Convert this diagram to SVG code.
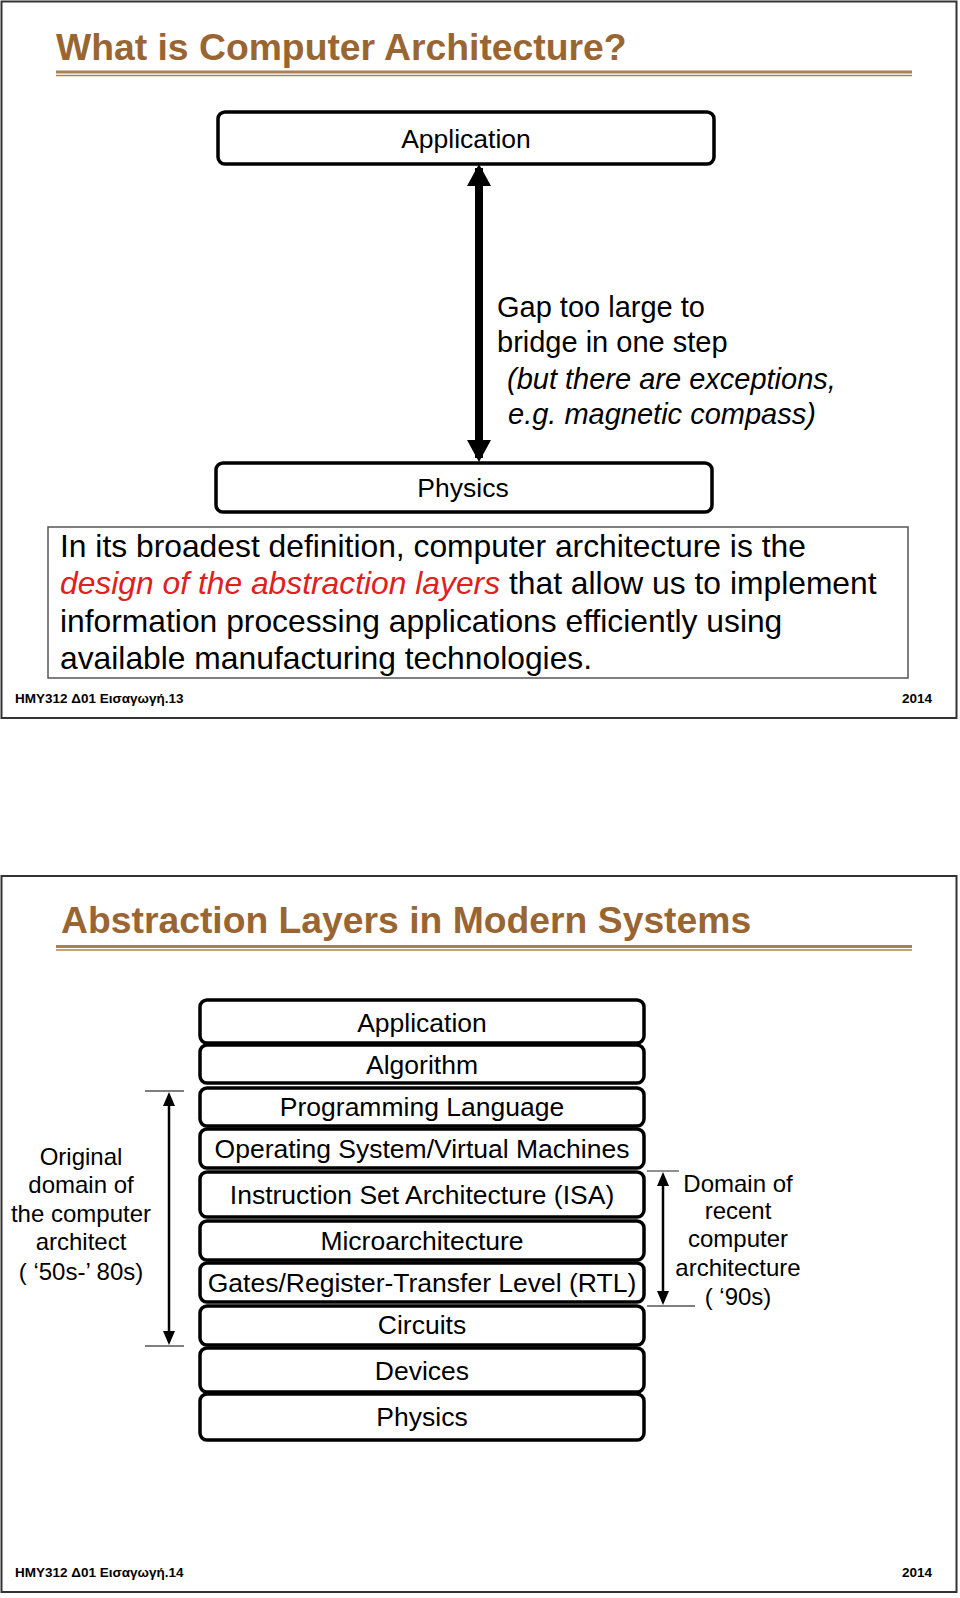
<svg xmlns="http://www.w3.org/2000/svg" width="960" height="1598" viewBox="0 0 960 1598">
<defs>
<style>
text{font-family:"Liberation Sans",Arial,sans-serif;fill:#000}
.slide{fill:#fff;stroke:#333;stroke-width:2}
.title{font-size:37.3px;font-weight:bold;fill:#996633}
.rule1{stroke:#a9834f;stroke-width:3}
.rule2{stroke:#a9834f;stroke-width:1.5}
.box{fill:#fff;stroke:#000;stroke-width:3.5}
.lbl{font-size:26.5px;text-anchor:middle}
.gap{font-size:29px}
.it{font-style:italic}
.def{font-size:31.8px}
.red{fill:#e02020;font-style:italic}
.defbox{fill:#fff;stroke:#555;stroke-width:1.5}
.foot{font-size:13.5px;font-weight:bold}
.side{font-size:24px;text-anchor:middle}
.tick{stroke:#555;stroke-width:1.3}
.thin{stroke:#000;stroke-width:2.5;fill:none}
.thick{stroke:#000;stroke-width:8;fill:none}
</style>
<marker id="thinHead" viewBox="0 0 14 12" refX="10" refY="6" markerWidth="14" markerHeight="12" markerUnits="userSpaceOnUse" orient="auto-start-reverse"><path d="M0,0 L14,6 L0,12 z" fill="#000"/></marker>
<marker id="thickHead" viewBox="0 0 22 24" refX="18" refY="12" markerWidth="22" markerHeight="24" markerUnits="userSpaceOnUse" orient="auto-start-reverse"><path d="M0,0 L22,12 L0,24 z" fill="#000"/></marker>
</defs>
<rect width="960" height="1598" fill="#fff"/>

<!-- Slide 1 -->
<g id="slide1">
<rect class="slide" x="1.5" y="1.5" width="955" height="716.5"/>
<text class="title" x="56" y="60">What is Computer Architecture?</text>
<line class="rule1" x1="56" y1="72" x2="912" y2="72"/>
<line class="rule2" x1="56" y1="75.5" x2="912" y2="75.5"/>
<text class="foot" x="15" y="703">HMY312 Δ01 Εισαγωγή.13</text>
<text class="foot" x="932" y="703" text-anchor="end">2014</text>
</g>

<g id="s1-application">
<rect class="box" x="218" y="112" width="496" height="52" rx="7"/>
<text class="lbl" x="466" y="148">Application</text>
</g>
<g id="s1-physics">
<rect class="box" x="216" y="463" width="496" height="49" rx="7"/>
<text class="lbl" x="463" y="497">Physics</text>
</g>
<g id="s1-gap-note">
<text class="gap" x="497" y="317">Gap too large to</text>
<text class="gap" x="497" y="352">bridge in one step</text>
<text class="gap it" x="507" y="389">(but there are exceptions,</text>
<text class="gap it" x="508" y="424">e.g. magnetic compass)</text>
</g>
<g id="s1-definition">
<rect class="defbox" x="48" y="527" width="860" height="151"/>
<text class="def" x="60" y="557">In its broadest definition, computer architecture is the</text>
<text class="def" x="60" y="594"><tspan class="red">design of the abstraction layers</tspan> that allow us to implement</text>
<text class="def" x="60" y="632">information processing applications efficiently using</text>
<text class="def" x="60" y="669">available manufacturing technologies.</text>
</g>

<!-- Slide 2 -->
<g id="slide2">
<rect class="slide" x="1.5" y="876" width="955" height="716"/>
<text class="title" x="61" y="933">Abstraction Layers in Modern Systems</text>
<line class="rule1" x1="56" y1="946.5" x2="912" y2="946.5"/>
<line class="rule2" x1="56" y1="950" x2="912" y2="950"/>
<text class="foot" x="15" y="1577">HMY312 Δ01 Εισαγωγή.14</text>
<text class="foot" x="932" y="1577" text-anchor="end">2014</text>
</g>

<g id="l-application"><rect class="box" x="200" y="1000" width="444" height="43" rx="7"/><text class="lbl" x="422" y="1032">Application</text></g>
<g id="l-algorithm"><rect class="box" x="200" y="1045" width="444" height="38" rx="7"/><text class="lbl" x="422" y="1074">Algorithm</text></g>
<g id="l-proglang"><rect class="box" x="200" y="1088" width="444" height="38" rx="7"/><text class="lbl" x="422" y="1116">Programming Language</text></g>
<g id="l-os"><rect class="box" x="200" y="1129" width="444" height="39" rx="7"/><text class="lbl" x="422" y="1158">Operating System/Virtual Machines</text></g>
<g id="l-isa"><rect class="box" x="200" y="1172" width="444" height="45" rx="7"/><text class="lbl" x="422" y="1204">Instruction Set Architecture (ISA)</text></g>
<g id="l-micro"><rect class="box" x="200" y="1221" width="444" height="39" rx="7"/><text class="lbl" x="422" y="1250">Microarchitecture</text></g>
<g id="l-gates"><rect class="box" x="200" y="1263" width="444" height="39" rx="7"/><text class="lbl" x="422" y="1292">Gates/Register-Transfer Level (RTL)</text></g>
<g id="l-circuits"><rect class="box" x="200" y="1306" width="444" height="39" rx="7"/><text class="lbl" x="422" y="1334">Circuits</text></g>
<g id="l-devices"><rect class="box" x="200" y="1348" width="444" height="44" rx="7"/><text class="lbl" x="422" y="1380">Devices</text></g>
<g id="l-physics"><rect class="box" x="200" y="1394" width="444" height="46" rx="7"/><text class="lbl" x="422" y="1426">Physics</text></g>

<g id="note-original">
<text class="side" x="81" y="1165">Original</text>
<text class="side" x="81" y="1193">domain of</text>
<text class="side" x="81" y="1222">the computer</text>
<text class="side" x="81" y="1250">architect</text>
<text class="side" x="81" y="1280">( ‘50s-’ 80s)</text>
</g>
<g id="note-recent">
<text class="side" x="738" y="1192">Domain of</text>
<text class="side" x="738" y="1219">recent</text>
<text class="side" x="738" y="1247">computer</text>
<text class="side" x="738" y="1276">architecture</text>
<text class="side" x="738" y="1305">( ‘90s)</text>
</g>

<g id="connectors">
<line class="thick" x1="479" y1="168" x2="479" y2="458" marker-start="url(#thickHead)" marker-end="url(#thickHead)"/>
<line class="tick" x1="145" y1="1091" x2="184" y2="1091"/>
<line class="tick" x1="145" y1="1346" x2="184" y2="1346"/>
<line class="thin" x1="169" y1="1096" x2="169" y2="1341" marker-start="url(#thinHead)" marker-end="url(#thinHead)"/>
<line class="tick" x1="647" y1="1171" x2="679" y2="1171"/>
<line class="tick" x1="647" y1="1306" x2="695" y2="1306"/>
<line class="thin" x1="663" y1="1176" x2="663" y2="1301" marker-start="url(#thinHead)" marker-end="url(#thinHead)"/>
</g>
</svg>
